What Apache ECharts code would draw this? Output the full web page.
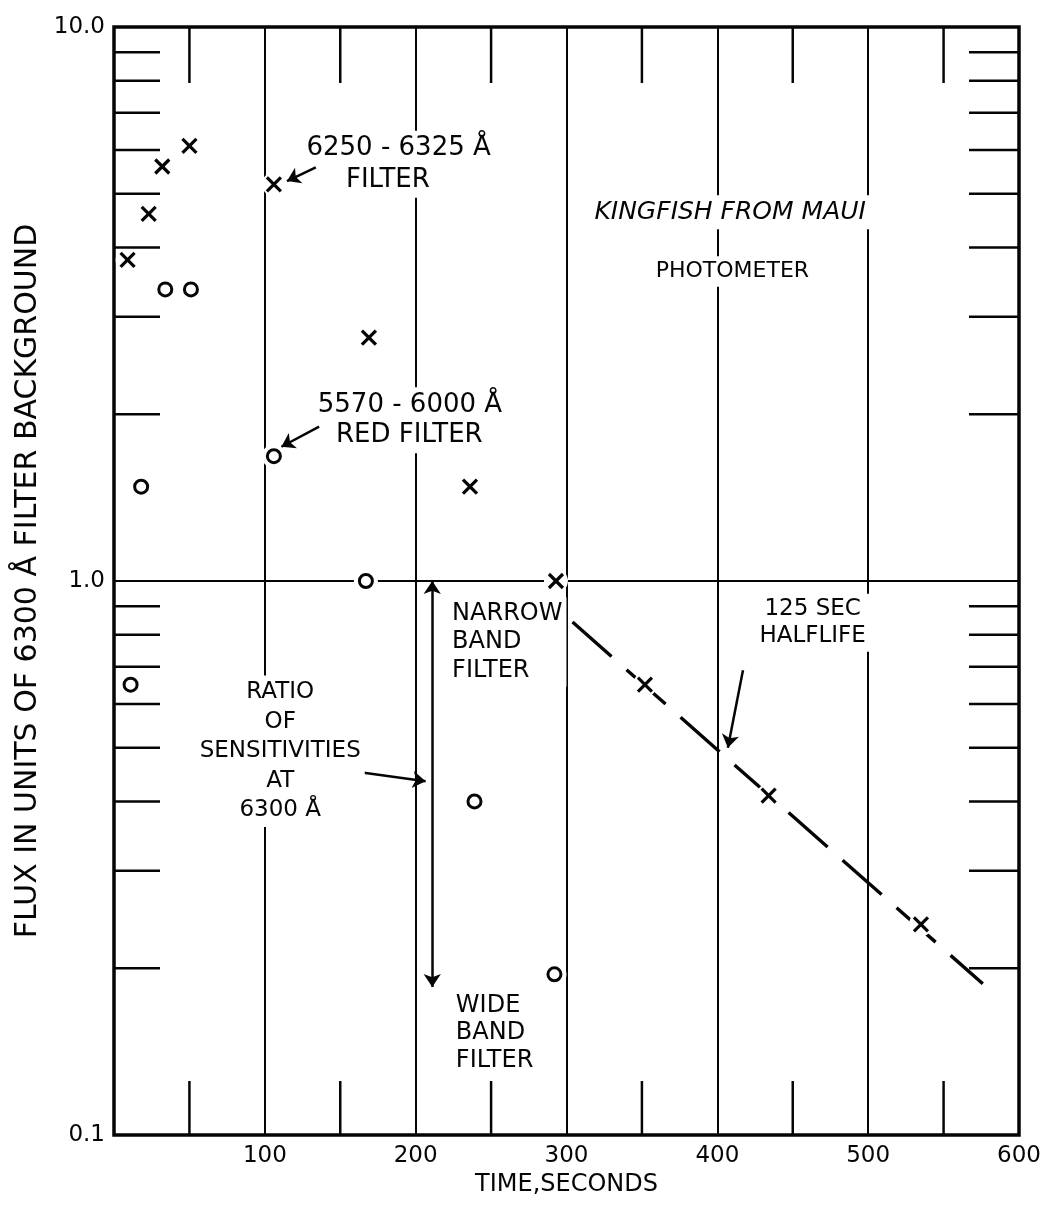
<!DOCTYPE html>
<html>
<head>
<meta charset="utf-8">
<script src="https://cdn.jsdelivr.net/npm/echarts@6/dist/echarts.min.js"></script>
<style>
  html, body { margin: 0; padding: 0; background: #fff; }
  #chart { width: 1045px; height: 1205px; }
</style>
</head>
<body>
<div id="chart"></div>
<script>
// Kingfish burst seen from Maui: photometer flux in two filters versus time.

// Axis tick labels
const timeLabels = ['', '100', '200', '300', '400', '500', '600'];
const fluxLabels = ['0.1', '1.0', '10.0'];

// Short inner ticks
const timeMinorTicks = [50, 150, 250, 350, 450, 550];
const fluxMinorTicks = [0.2, 0.3, 0.4, 0.5, 0.6, 0.7, 0.8, 0.9, 2, 3, 4, 5, 6, 7, 8, 9];

// 6250-6325 Å filter (crosses)
const crossTime = [9, 23, 32, 50, 106, 169, 236, 293, 352, 434, 535];
const crossFlux = [3.8, 4.6, 5.6, 6.1, 5.2, 2.75, 1.48, 1.0, 0.65, 0.41, 0.24];

// 5570-6000 Å red filter (circles)
const circleTime = [11, 18, 34, 51, 106, 167, 239, 292];
const circleFlux = [0.65, 1.48, 3.36, 3.36, 1.68, 1.0, 0.40, 0.195];

// 125 s half-life decay line, end points
const halflifeTime = [304, 576];
const halflifeFlux = [0.843, 0.1875];

// Ratio of sensitivities at 6300 Å: double arrow from narrow band to wide band level
const ratioTime = 211;
const ratioFlux = [1.0, 0.185];

// Pointer arrows [from, to] in data units
const pointerArrows = [
  [[133.8, 5.58], [114.7, 5.27]],
  [[136, 1.90], [111, 1.747]],
  [[154.8, 0.455], [206.6, 0.435]],
  [[417, 0.69], [407, 0.50]]
];

// Lettering placed in data units
const notes = [
  { text: '6250 - 6325 Å', t: 188.7, v: 6.04, align: 'center', size: 26 },
  { text: 'FILTER', t: 181.6, v: 5.29, align: 'center', size: 26 },
  { text: '5570 - 6000 Å', t: 196.2, v: 2.08, align: 'center', size: 26 },
  { text: 'RED FILTER', t: 195.8, v: 1.829, align: 'center', size: 26 },
  { text: 'KINGFISH FROM MAUI', t: 408.5, v: 4.63, align: 'center', size: 25, italic: true },
  { text: 'PHOTOMETER', t: 410, v: 3.62, align: 'center', size: 22 },
  { text: 'NARROW\nBAND\nFILTER', t: 221.5, v: 0.776, align: 'left', size: 24, lh: 28.5 },
  { text: 'RATIO\nOF\nSENSITIVITIES\nAT\n6300 Å', t: 110.2, v: 0.4927, align: 'center', size: 23, lh: 29.5 },
  { text: 'WIDE\nBAND\nFILTER', t: 224, v: 0.1529, align: 'left', size: 24, lh: 27.5 },
  { text: '125 SEC\nHALFLIFE', t: 463.2, v: 0.841, align: 'center', size: 23, lh: 27 }
];

const FONT = 'DejaVu Sans';
const INK = '#050505';

const pairs = (xs, ys) => xs.map((x, i) => [x, ys[i]]);
const crossData = pairs(crossTime, crossFlux);
const circleData = pairs(circleTime, circleFlux);

const tickData = timeMinorTicks.map(t => [t, 1, 0]).concat(fluxMinorTicks.map(v => [0, v, 1]));

function renderTick(params, api) {
  const kind = api.value(2);
  const style = { stroke: INK, lineWidth: 2.5 };
  if (kind === 0) {
    const t = api.value(0);
    const b = api.coord([t, 0.1]);
    const u = api.coord([t, 10]);
    return { type: 'group', children: [
      { type: 'line', shape: { x1: b[0], y1: b[1], x2: b[0], y2: b[1] - 54 }, style },
      { type: 'line', shape: { x1: u[0], y1: u[1], x2: u[0], y2: u[1] + 56 }, style }
    ] };
  }
  const v = api.value(1);
  const l = api.coord([0, v]);
  const r = api.coord([600, v]);
  return { type: 'group', children: [
    { type: 'line', shape: { x1: l[0], y1: l[1], x2: l[0] + 46, y2: l[1] }, style },
    { type: 'line', shape: { x1: r[0], y1: r[1], x2: r[0] - 50, y2: r[1] }, style }
  ] };
}

// Hand-drawn style "x" marker
function renderCross(params, api) {
  const p = api.coord([api.value(0), api.value(1)]);
  const h = 7;
  const style = { stroke: INK, lineWidth: 3.2 };
  return { type: 'group', children: [
    { type: 'line', shape: { x1: p[0] - h, y1: p[1] - h, x2: p[0] + h, y2: p[1] + h }, style },
    { type: 'line', shape: { x1: p[0] - h, y1: p[1] + h, x2: p[0] + h, y2: p[1] - h }, style }
  ] };
}

const arrowLines = pointerArrows.map(a => [
  { coord: a[0], symbol: 'none' },
  { coord: a[1], symbol: 'arrow' }
]);
arrowLines.push([
  { coord: [ratioTime, ratioFlux[0]], symbol: 'arrow' },
  { coord: [ratioTime, ratioFlux[1]], symbol: 'arrow' }
]);

const chart = echarts.init(document.getElementById('chart'), null, { renderer: 'canvas' });

chart.setOption({
  animation: false,
  backgroundColor: '#fff',
  grid: {
    left: 114, right: 26, top: 27, bottom: 70,
    show: true, borderColor: INK, borderWidth: 3.5, backgroundColor: 'transparent'
  },
  xAxis: {
    type: 'value', min: 0, max: 600, interval: 100,
    axisLine: { show: false }, axisTick: { show: false },
    axisLabel: {
      formatter: v => timeLabels[Math.round(v / 100)],
      fontFamily: FONT, fontSize: 23, color: INK, margin: 10
    },
    splitLine: { show: true, lineStyle: { color: INK, width: 2 } },
    name: 'TIME,SECONDS', nameLocation: 'middle', nameGap: 32,
    nameTextStyle: { fontFamily: FONT, fontSize: 24, color: INK }
  },
  yAxis: {
    type: 'log', logBase: 10, min: 0.1, max: 10,
    axisLine: { show: false }, axisTick: { show: false },
    axisLabel: {
      formatter: v => fluxLabels[Math.round(Math.log10(v)) + 1],
      fontFamily: FONT, fontSize: 23, color: INK, margin: 9
    },
    splitLine: { show: true, lineStyle: { color: INK, width: 2 } },
    name: 'FLUX IN UNITS OF 6300 Å FILTER BACKGROUND', nameLocation: 'middle', nameGap: 53,
    nameTextStyle: { fontFamily: FONT, fontSize: 30, color: INK }
  },
  series: [
    {
      type: 'line', name: 'halflife', silent: true, z: 2,
      data: pairs(halflifeTime, halflifeFlux), symbol: 'none',
      lineStyle: { color: INK, width: 3.4, type: [52, 20] }
    },
    {
      type: 'scatter', name: 'clearance', silent: true, z: 3,
      data: crossData.concat(circleData), symbol: 'circle', symbolSize: 24,
      itemStyle: { color: '#fff', opacity: 1 }
    },
    {
      type: 'custom', name: 'ticks', silent: true, z: 6, clip: false,
      data: tickData, renderItem: renderTick
    },
    {
      type: 'custom', name: '6250-6325 Å', silent: true, z: 5, clip: false,
      data: crossData, renderItem: renderCross,
      markLine: {
        silent: true, animation: false, symbolSize: 13,
        label: { show: false },
        lineStyle: { color: INK, width: 2.5, type: 'solid', opacity: 1 },
        itemStyle: { color: INK },
        emphasis: { disabled: true },
        data: arrowLines
      }
    },
    {
      type: 'scatter', name: '5570-6000 Å', silent: true, z: 5,
      data: circleData, symbol: 'circle', symbolSize: 13,
      itemStyle: { color: '#fff', borderColor: INK, borderWidth: 3, opacity: 1 }
    }
  ]
});

// Lettering on the plot, positioned through the axes' scales
chart.setOption({
  graphic: notes.map(n => {
    const p = chart.convertToPixel({ gridIndex: 0 }, [n.t, n.v]);
    return {
      type: 'text', x: p[0], y: p[1], z: 100, silent: true,
      style: {
        text: n.text, fill: INK, fontFamily: FONT, fontSize: n.size,
        fontStyle: n.italic ? 'italic' : 'normal',
        align: n.align, verticalAlign: 'middle', lineHeight: n.lh || n.size * 1.2,
        backgroundColor: '#fff', padding: [2, 4]
      }
    };
  })
});
</script>
</body>
</html>
